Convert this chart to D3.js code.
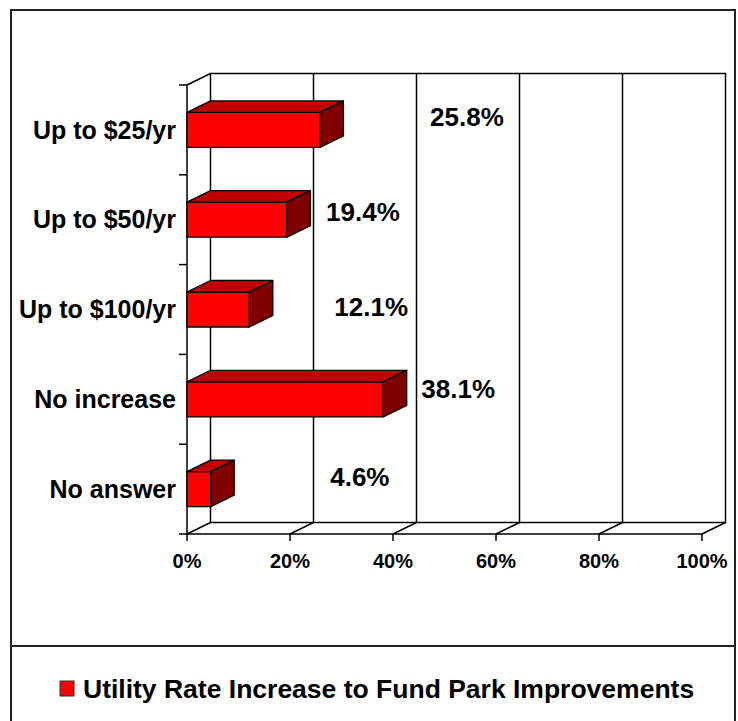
<!DOCTYPE html>
<html>
<head>
<meta charset="utf-8">
<script src="https://cdn.jsdelivr.net/npm/d3@7"></script>
<style>
  body { margin: 0; background: #fff; }
  text { font-family: "Liberation Sans", Arial, sans-serif; font-weight: bold; fill: #000; }
</style>
</head>
<body>
<div id="body"></div>
<script>
var categories = ["Up to $25/yr", "Up to $50/yr", "Up to $100/yr", "No increase", "No answer"];
var values = [25.8, 19.4, 12.1, 38.1, 4.6];
var valueLabels = ["25.8%", "19.4%", "12.1%", "38.1%", "4.6%"];
var xTicks = [0, 20, 40, 60, 80, 100];
var seriesName = "Utility Rate Increase to Fund Park Improvements";

// where excel left the data labels (percent along the back wall, and a small vertical nudge)
var labelAt = [49.8, 29.6, 31.2, 48.1, 29.0];
var labelNudge = [-2, 4, 9, 1.5, -1];

var width = 738;
var height = 721;
var plot = { left: 187, right: 702, top: 85, bottom: 534 };
var depth = { dx: 23.5, dy: -11.5 };

var svg = d3.select("#body")
  .append("svg")
  .attr("width", width)
  .attr("height", height);

var x = d3.scaleLinear()
  .domain([0, 100])
  .range([plot.left, plot.right]);

var y = d3.scaleBand()
  .domain(categories)
  .range([plot.top, plot.bottom]);

var yBar = d3.scaleBand()
  .domain(categories)
  .range([plot.top, plot.bottom])
  .paddingInner(0.61)
  .paddingOuter(0.305);

// outer frame + legend frame
svg.append("rect")
  .attr("x", 11).attr("y", 10)
  .attr("width", 724).attr("height", 730)
  .attr("fill", "none")
  .attr("stroke", "#222")
  .attr("stroke-width", 2);

svg.append("rect")
  .attr("x", 11).attr("y", 646)
  .attr("width", 724).attr("height", 100)
  .attr("fill", "none")
  .attr("stroke", "#222")
  .attr("stroke-width", 2);

var walls = svg.append("g")
  .attr("fill", "none")
  .attr("stroke", "#000")
  .attr("stroke-width", 1.5);

// back wall
walls.append("rect")
  .attr("x", x(0) + depth.dx)
  .attr("y", plot.top + depth.dy)
  .attr("width", x(100) - x(0))
  .attr("height", plot.bottom - plot.top)
  .attr("fill", "#fff");

// gridlines on the back wall
walls.selectAll(".grid")
  .data(xTicks.slice(1, -1))
  .enter().append("line")
  .attr("x1", function(d) { return x(d) + depth.dx; })
  .attr("x2", function(d) { return x(d) + depth.dx; })
  .attr("y1", plot.top + depth.dy)
  .attr("y2", plot.bottom + depth.dy);

// floor: front edge, back edge is the wall, diagonals at each tick
walls.append("line")
  .attr("x1", x(0)).attr("x2", x(100))
  .attr("y1", plot.bottom).attr("y2", plot.bottom);

walls.selectAll(".floor")
  .data(xTicks)
  .enter().append("line")
  .attr("x1", function(d) { return x(d); })
  .attr("x2", function(d) { return x(d) + depth.dx; })
  .attr("y1", plot.bottom)
  .attr("y2", plot.bottom + depth.dy);

// side wall
walls.append("line")
  .attr("x1", x(0)).attr("x2", x(0))
  .attr("y1", plot.top).attr("y2", plot.bottom);

walls.append("line")
  .attr("x1", x(0)).attr("x2", x(0) + depth.dx)
  .attr("y1", plot.top).attr("y2", plot.top + depth.dy);

// category ticks
walls.selectAll(".ytick")
  .data(categories.concat([null]))
  .enter().append("line")
  .attr("x1", x(0) - 8).attr("x2", x(0))
  .attr("y1", function(d) { return d === null ? plot.bottom : y(d); })
  .attr("y2", function(d) { return d === null ? plot.bottom : y(d); });

// value ticks
walls.selectAll(".xtick")
  .data(xTicks)
  .enter().append("line")
  .attr("x1", function(d) { return x(d); })
  .attr("x2", function(d) { return x(d); })
  .attr("y1", plot.bottom)
  .attr("y2", plot.bottom + 7);

// bars
var bars = svg.append("g")
  .attr("stroke", "#000")
  .attr("stroke-width", 1.3)
  .attr("stroke-linejoin", "round")
  .selectAll("g")
  .data(values)
  .enter().append("g");

function pts(a) {
  return a.map(function(p) { return p.join(","); }).join(" ");
}

bars.append("rect")
  .attr("x", x(0))
  .attr("y", function(d, i) { return yBar(categories[i]); })
  .attr("width", function(d) { return x(d) - x(0); })
  .attr("height", yBar.bandwidth())
  .attr("fill", "#ff0000");

bars.append("polygon")
  .attr("fill", "#c00000")
  .attr("points", function(d, i) {
    var y0 = yBar(categories[i]);
    return pts([[x(0), y0], [x(0) + depth.dx, y0 + depth.dy], [x(d) + depth.dx, y0 + depth.dy], [x(d), y0]]);
  });

bars.append("polygon")
  .attr("fill", "#800000")
  .attr("points", function(d, i) {
    var y0 = yBar(categories[i]);
    var y1 = y0 + yBar.bandwidth();
    return pts([[x(d), y0], [x(d) + depth.dx, y0 + depth.dy], [x(d) + depth.dx, y1 + depth.dy], [x(d), y1]]);
  });

// category labels
svg.append("g")
  .attr("font-size", 25)
  .attr("text-anchor", "end")
  .selectAll("text")
  .data(categories)
  .enter().append("text")
  .attr("x", x(0) - 11)
  .attr("y", function(d) { return y(d) + y.bandwidth() / 2; })
  .attr("dy", "0.35em")
  .text(function(d) { return d; });

// value axis labels
svg.append("g")
  .attr("font-size", 20)
  .attr("text-anchor", "middle")
  .selectAll("text")
  .data(xTicks)
  .enter().append("text")
  .attr("x", function(d) { return x(d); })
  .attr("y", plot.bottom + 34)
  .text(function(d) { return d + "%"; });

// data labels
svg.append("g")
  .attr("font-size", 26)
  .attr("text-anchor", "middle")
  .selectAll("text")
  .data(valueLabels)
  .enter().append("text")
  .attr("x", function(d, i) { return x(labelAt[i]) + depth.dx; })
  .attr("y", function(d, i) { return y(categories[i]) + y.bandwidth() / 2 + depth.dy + labelNudge[i]; })
  .attr("dy", "0.35em")
  .text(function(d) { return d; });

// legend
var legend = svg.append("g")
  .attr("transform", "translate(60,689)");

legend.append("rect")
  .attr("x", 0).attr("y", -8)
  .attr("width", 14).attr("height", 15)
  .attr("fill", "#ff0000")
  .attr("stroke", "#333")
  .attr("stroke-width", 1);

legend.append("text")
  .attr("x", 23)
  .attr("dy", "0.35em")
  .attr("font-size", 26.5)
  .text(seriesName);
</script>
</body>
</html>
